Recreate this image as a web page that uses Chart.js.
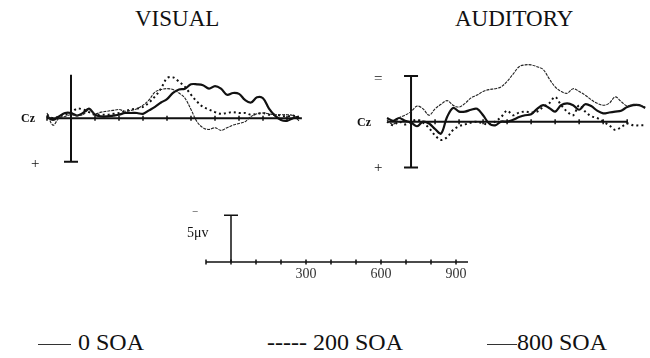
<!DOCTYPE html>
<html>
<head>
<meta charset="utf-8">
<script src="https://cdn.jsdelivr.net/npm/chart.js@4.4.1/dist/chart.umd.min.js"></script>
<style>
  body { margin: 0; background: #fff; }
  #page { position: relative; width: 650px; height: 358px; overflow: hidden; font-family: "Liberation Serif", "Times New Roman", serif; color: #111; }
  #page canvas { position: absolute; }
  .txt { position: absolute; white-space: nowrap; line-height: 1; }
  .title { font-size: 23px; }
  .cz { font-size: 12px; font-weight: bold; }
  .sign { font-size: 15px; }
  .legend { font-size: 24px; }
  .swatch { display: inline-block; vertical-align: middle; border-top: 1px solid #333; }
</style>
</head>
<body>
<div id="page">
  <div class="txt title" style="left:135px; top:7px;">VISUAL</div>
  <div class="txt title" style="left:455px; top:7px;">AUDITORY</div>

  <canvas id="visualChart" width="288" height="113" style="left:23px; top:53px;"></canvas>
  <canvas id="auditoryChart" width="287" height="119" style="left:363px; top:53px;"></canvas>
  <canvas id="scaleChart" width="300" height="84" style="left:181px; top:206px;"></canvas>

  <div class="txt cz" style="left:21px; top:112px;">Cz</div>
  <div class="txt sign" style="left:31px; top:156px;">+</div>
  <div class="txt cz" style="left:357px; top:116px;">Cz</div>
  <div class="txt sign" style="left:374px; top:71px;">=</div>
  <div class="txt sign" style="left:374px; top:160px;">+</div>

  <div class="txt" style="left:193px; top:210px; font-size:13px;">&#8254;</div>
  <div class="txt" style="left:187px; top:226px; font-size:14px;">5&mu;v</div>

  <div class="txt legend" style="left:38px; top:330px;"><span class="swatch" style="width:33px; margin-right:7px;"></span>0 SOA</div>
  <div class="txt legend" style="left:267px; top:330px;">----- 200 SOA</div>
  <div class="txt legend" style="left:487px; top:330px;"><span class="swatch" style="width:30px;"></span>800 SOA</div>
</div>

<script>
// time axis (ms) and Cz amplitudes (µV, negative plotted up)
const visualTimes = [-100, -75, -50, -25, 0, 25, 50, 75, 100, 125, 150, 175, 200, 225, 250, 275, 300, 325, 350, 375, 400,
    425, 450, 475, 500, 525, 550, 575, 600, 625, 650, 675, 700, 725, 750, 775, 800, 825, 850, 875, 900, 925, 950];
const visualSoa0 = [-0.2, 0.2, -0.2, -0.6, -0.6, -0.3, -0.6, -1.1, -0.4, -0.2, -0.2, -0.3, -0.4, -0.6, -0.6, -0.6, -0.5,
    -0.9, -1.3, -1.8, -2.2, -2.9, -3.3, -3.4, -3.9, -3.9, -3.8, -3.4, -3.7, -3.4, -2.7, -2.9, -2.8, -2.1, -1.8, -2.4, -2.3,
    -1.1, -0.3, 0.2, 0.3, 0.0, -0.2];
const visualSoa200 = [-0.4, 0.0, -0.2, -0.4, -0.6, -1.1, -1.0, -0.7, -0.4, -0.4, -0.4, -0.5, -0.6, -0.8, -1.0, -1.1, -1.3,
    -1.8, -2.5, -3.4, -4.6, -4.7, -4.2, -3.6, -2.7, -1.9, -1.3, -1.0, -0.7, -0.5, -0.6, -0.7, -0.6, -0.6, -0.4, -0.5, -0.6,
    -0.4, -0.4, -0.3, -0.2, -0.3, 0.0];
const visualSoa800 = [-0.6, 0.8, 0.0, -0.2, -0.4, -0.3, -0.4, -1.0, -0.5, -0.7, -0.8, -0.9, -1.0, -0.8, -0.9, -1.1, -1.5,
    -2.1, -3.0, -3.3, -3.4, -3.3, -2.9, -2.3, -1.0, 0.4, 1.1, 1.3, 1.1, 1.4, 1.1, 0.8, 0.6, 0.4, -0.2, -0.5, -0.6, -0.5,
    -0.4, -0.4, -0.4, -0.3, 0.3];

const auditoryTimes = [-100, -75, -50, -25, 0, 25, 50, 75, 100, 125, 150, 175, 200, 225, 250, 275, 300, 325, 350, 375, 400,
    425, 450, 475, 500, 525, 550, 575, 600, 625, 650, 675, 700, 725, 750, 775, 800, 825, 850, 875, 900, 925, 950, 975];
const auditorySoa0 = [-0.4, -0.1, -0.4, -0.1, 0.1, 0.5, 0.0, 0.2, 0.8, 1.3, -0.5, -1.5, -1.1, -1.1, -1.3, -1.4, -0.7, 0.2,
    0.4, 0.0, 0.0, -0.2, -0.5, -0.7, -0.8, -1.4, -1.8, -1.5, -1.1, -1.8, -2.0, -1.8, -1.3, -1.9, -1.7, -1.2, -0.9, -1.0,
    -1.1, -1.2, -1.6, -1.8, -1.8, -1.5];
const auditorySoa200 = [0.0, 0.4, 0.0, 0.3, 0.0, -0.2, 0.1, 0.7, 1.5, 2.0, 1.7, 0.9, 0.5, 0.3, 0.1, 0.0, 0.2, 0.3, 0.0,
    -0.5, -1.2, -0.7, -1.0, -1.1, -1.0, -1.1, -1.6, -2.0, -2.7, -1.8, -1.1, -0.7, -1.8, -1.1, -0.6, -0.4, 0.0, 0.4, 0.9,
    0.6, 0.2, 0.4, 0.4, 0.4];
const auditorySoa800 = [-0.2, 0.3, -0.4, -0.7, -1.1, -1.7, -1.4, -0.7, -1.4, -1.9, -2.3, -1.8, -1.6, -2.0, -2.6, -2.9, -3.3,
    -3.5, -3.6, -3.8, -4.4, -5.2, -6.0, -6.2, -6.2, -6.0, -5.7, -4.7, -3.8, -3.3, -3.1, -3.6, -3.3, -2.9, -2.4, -2.0, -1.8,
    -2.0, -2.7, -2.2, -1.7, -1.9, -1.8, -1.6];

const scaleTickLabels = [300, 600, 900];
const seriesNames = ['0 SOA', '200 SOA', '800 SOA'];

// baseline, calibration bar and 100 ms ticks drawn on the chart's own scales
const erpFrame = {
    id: 'erpFrame',
    beforeDatasetsDraw(chart, args, opts) {
        const { ctx, scales: { x, y } } = chart;
        const y0 = y.getPixelForValue(0);
        const x0 = x.getPixelForValue(0);
        ctx.save();
        ctx.strokeStyle = '#111';
        ctx.lineWidth = opts.lineWidth || 2;
        ctx.beginPath();
        ctx.moveTo(x.getPixelForValue(opts.lineFrom), y0);
        ctx.lineTo(x.getPixelForValue(opts.lineTo), y0);
        const yTop = y.getPixelForValue(opts.barFrom);
        const yBot = y.getPixelForValue(opts.barTo);
        ctx.moveTo(x0, yTop);
        ctx.lineTo(x0, yBot);
        if (opts.capTop) { ctx.moveTo(x0 - 7, yTop); ctx.lineTo(x0 + 7, yTop); }
        if (opts.capBottom) { ctx.moveTo(x0 - 7, yBot); ctx.lineTo(x0 + 7, yBot); }
        ctx.stroke();

        ctx.lineWidth = 1.5;
        ctx.beginPath();
        for (let t = opts.tickFrom; t <= opts.tickTo; t += 100) {
            const px = x.getPixelForValue(t);
            ctx.moveTo(px, y0 - 2.5);
            ctx.lineTo(px, y0 + 2.5);
        }
        ctx.stroke();

        if (opts.labels) {
            ctx.fillStyle = '#333';
            ctx.font = '14px "Liberation Serif", serif';
            ctx.textAlign = 'center';
            ctx.textBaseline = 'middle';
            opts.labels.forEach(v => ctx.fillText(String(v), x.getPixelForValue(v), y0 + 12));
        }
        ctx.restore();
    }
};

const lineStyles = [
    { borderColor: '#111', borderWidth: 2.2, borderDash: [] },
    { borderColor: '#111', borderWidth: 2, borderDash: [2, 3] },
    { borderColor: '#222', borderWidth: 1.1, borderDash: [3, 1] }
];

function makePanel(id, times, seriesList, frame) {
    const ctx = document.getElementById(id).getContext('2d');
    return new Chart(ctx, {
        type: 'line',
        data: {
            datasets: seriesList.map((vals, i) => ({
                label: seriesNames[i],
                data: times.map((t, k) => ({ x: t, y: vals[k] })),
                ...lineStyles[i],
                pointRadius: 0,
                tension: 0.35,
                fill: false
            })).reverse()
        },
        options: {
            responsive: false,
            animation: false,
            events: [],
            layout: { padding: 0 },
            scales: {
                x: { type: 'linear', display: false, min: -200, max: frame.xMax },
                y: { display: false, min: frame.yMin, max: frame.yMax, reverse: true }
            },
            plugins: {
                legend: { display: false },
                tooltip: { enabled: false },
                erpFrame: frame
            }
        },
        plugins: [erpFrame]
    });
}

makePanel('visualChart', visualTimes, [visualSoa0, visualSoa200, visualSoa800], {
    xMax: 1000, yMin: -7.5, yMax: 5.5,
    lineFrom: -100, lineTo: 962, tickFrom: -100, tickTo: 900,
    barFrom: -5, barTo: 5, capTop: false, capBottom: true
});

makePanel('auditoryChart', auditoryTimes, [auditorySoa0, auditorySoa200, auditorySoa800], {
    xMax: 995, yMin: -7.5, yMax: 5.5,
    lineFrom: -95, lineTo: 900, tickFrom: 0, tickTo: 900,
    barFrom: -5, barTo: 5, capTop: true, capBottom: true
});

makePanel('scaleChart', [], [], {
    xMax: 1000, yMin: -6, yMax: 3,
    lineFrom: -100, lineTo: 948, tickFrom: -100, tickTo: 900,
    barFrom: -5, barTo: 0, capTop: true, capBottom: false,
    lineWidth: 1.5, labels: scaleTickLabels
});
</script>
</body>
</html>
